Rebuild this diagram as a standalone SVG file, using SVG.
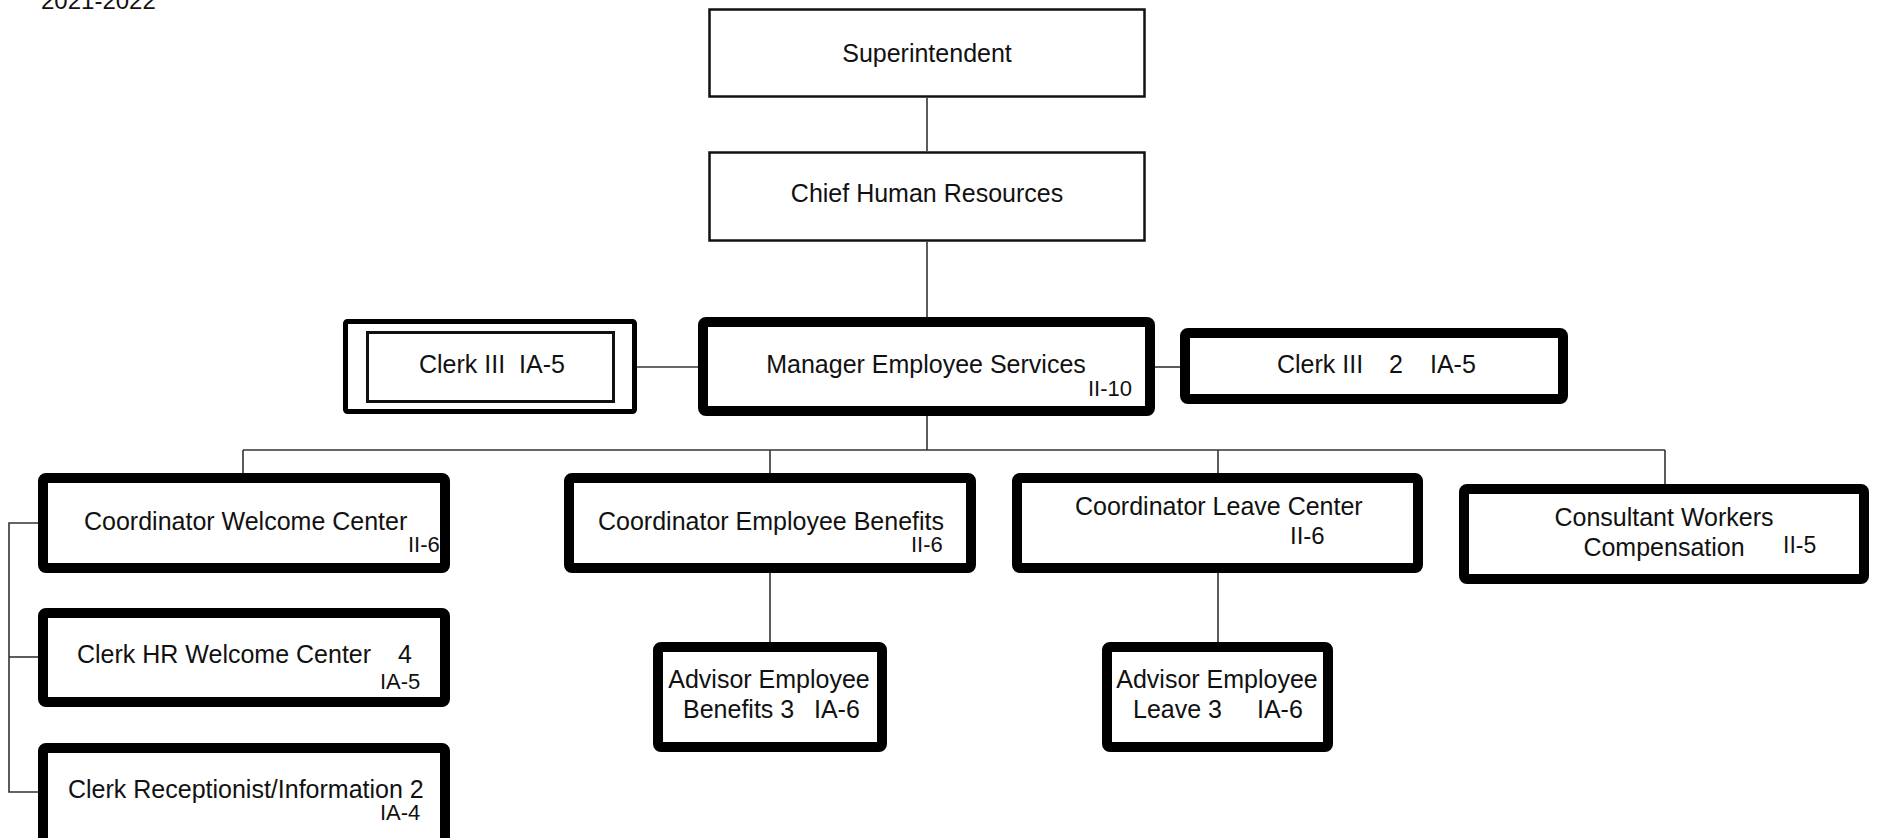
<svg xmlns="http://www.w3.org/2000/svg" width="1877" height="838" viewBox="0 0 1877 838">
<style>
text{font-family:"Liberation Sans",Arial,sans-serif;font-size:25px;fill:#111;}
.sm{font-size:22px;}
.mid{text-anchor:middle;}
.thin{fill:#fff;stroke:#111;stroke-width:2.5;}
.thick{fill:#fff;stroke:#000;stroke-width:10;}
.conn line,.conn polyline{stroke:#333;stroke-width:1.6;fill:none;}
</style>
<rect width="1877" height="838" fill="#fff"/>
<text x="41" y="9" style="font-size:24px">2021-2022</text>
<g class="conn" id="connectors">
<line x1="927" y1="98" x2="927" y2="151"/>
<line x1="927" y1="242" x2="927" y2="317"/>
<line x1="637" y1="367" x2="698" y2="367"/>
<line x1="1155" y1="367" x2="1180" y2="367"/>
<line x1="927" y1="416" x2="927" y2="450"/>
<line x1="243" y1="450" x2="1665" y2="450"/>
<line x1="243" y1="450" x2="243" y2="473"/>
<line x1="770" y1="450" x2="770" y2="473"/>
<line x1="1218" y1="450" x2="1218" y2="473"/>
<line x1="1665" y1="450" x2="1665" y2="484"/>
<line x1="770" y1="573" x2="770" y2="642"/>
<line x1="1218" y1="573" x2="1218" y2="642"/>
<polyline points="38,523 9,523 9,792 38,792"/>
<line x1="9" y1="657" x2="38" y2="657"/>
</g>
<g id="superintendent">
<rect class="thin" x="709.5" y="9.5" width="435" height="87"/>
<text class="mid" x="927" y="62">Superintendent</text>
</g>
<g id="chief-hr">
<rect class="thin" x="709.5" y="152.5" width="435" height="88"/>
<text class="mid" x="927" y="202">Chief Human Resources</text>
</g>
<g id="clerk-iii-left">
<rect fill="#fff" stroke="#000" stroke-width="5" x="345.5" y="321.5" width="289" height="90" rx="2"/>
<rect fill="#fff" stroke="#111" stroke-width="3" x="367.5" y="332.5" width="246" height="69"/>
<text x="419" y="373" xml:space="preserve">Clerk III  IA-5</text>
</g>
<g id="manager">
<rect class="thick" x="703" y="322" width="447" height="89" rx="3"/>
<text class="mid" x="926" y="373">Manager Employee Services</text>
<text class="sm" x="1088" y="396">II-10</text>
</g>
<g id="clerk-iii-right">
<rect class="thick" x="1185" y="333" width="378" height="66" rx="3"/>
<text x="1277" y="373">Clerk III</text>
<text x="1389" y="373">2</text>
<text x="1430" y="373">IA-5</text>
</g>
<g id="welcome">
<rect class="thick" x="43" y="478" width="402" height="90" rx="3"/>
<text x="84" y="530">Coordinator Welcome Center</text>
<text class="sm" x="408" y="552">II-6</text>
</g>
<g id="clerk-hr">
<rect class="thick" x="43" y="613" width="402" height="89" rx="3"/>
<text x="77" y="663">Clerk HR Welcome Center</text>
<text x="398" y="663">4</text>
<text class="sm" x="380" y="689">IA-5</text>
</g>
<g id="clerk-receptionist">
<rect class="thick" x="43" y="748" width="402" height="100" rx="3"/>
<text x="68" y="798">Clerk Receptionist/Information 2</text>
<text class="sm" x="380" y="820">IA-4</text>
</g>
<g id="benefits">
<rect class="thick" x="569" y="478" width="402" height="90" rx="3"/>
<text x="598" y="530">Coordinator Employee Benefits</text>
<text class="sm" x="911" y="552">II-6</text>
</g>
<g id="leave">
<rect class="thick" x="1017" y="478" width="401" height="90" rx="3"/>
<text x="1075" y="515">Coordinator Leave Center</text>
<text x="1290" y="544" style="font-size:24px">II-6</text>
</g>
<g id="consultant">
<rect class="thick" x="1464" y="489" width="400" height="90" rx="3"/>
<text class="mid" x="1664" y="526">Consultant Workers</text>
<text class="mid" x="1664" y="556">Compensation</text>
<text x="1783" y="553" style="font-size:23px">II-5</text>
</g>
<g id="advisor-benefits">
<rect class="thick" x="658" y="647" width="224" height="100" rx="3"/>
<text class="mid" x="769" y="688">Advisor Employee</text>
<text x="683" y="718">Benefits 3</text>
<text x="814" y="718">IA-6</text>
</g>
<g id="advisor-leave">
<rect class="thick" x="1107" y="647" width="221" height="100" rx="3"/>
<text class="mid" x="1217" y="688">Advisor Employee</text>
<text x="1133" y="718">Leave 3</text>
<text x="1257" y="718">IA-6</text>
</g>
</svg>
